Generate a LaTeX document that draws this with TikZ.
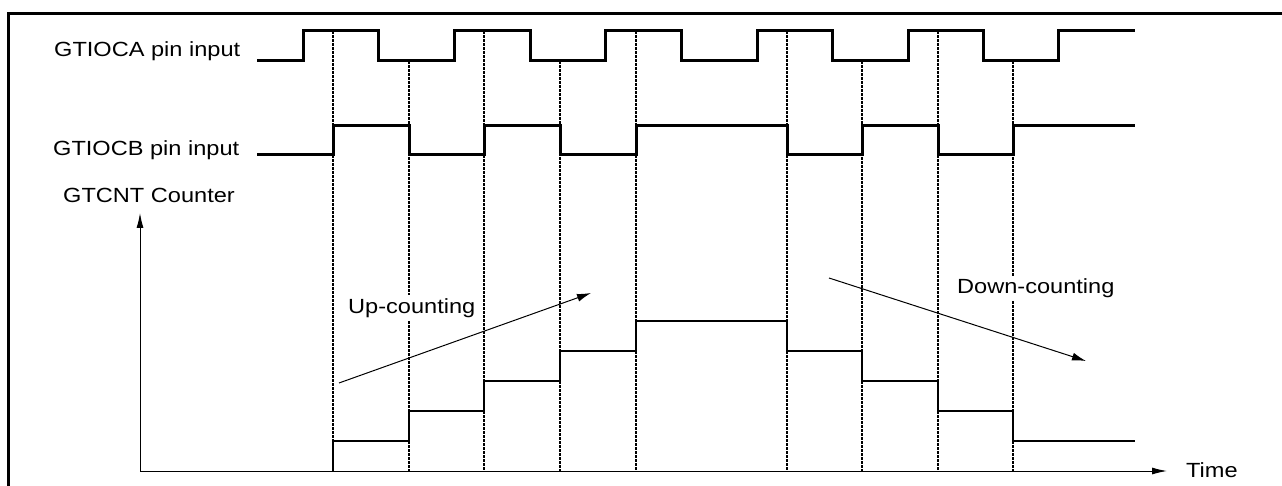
\documentclass[tikz,border=0pt]{standalone}
\usepackage{fontspec}
\setmainfont{Liberation Sans}[FakeStretch=1.15]
\usetikzlibrary{arrows.meta}

\tikzset{
  sig/.style={line width=3pt, line join=miter},
  cnt/.style={line width=2pt},
  guide/.style={line width=1.3pt, dash pattern=on 3pt off 1pt},
  axis/.style={line width=1pt, -{Latex[length=15pt,width=7pt]}},
  trend/.style={line width=1pt, -{Latex[length=14pt,width=8pt]}},
  lbl/.style={anchor=base west, inner sep=0pt, font=\fontsize{20.5}{24}\selectfont},
  tag/.style={lbl, fill=white, inner xsep=0pt, inner ysep=3pt},
}

\begin{document}
\begin{tikzpicture}[x=1pt,y=-1pt]
  \useasboundingbox (0,0) rectangle (1282,486);
  \clip (0,0) rectangle (1282,486);
  \draw[line width=3pt] (8.5,13.5) rectangle (1300,500);

  % edges of GTIOCB
  \foreach \x/\t in {333/31,409/61,484/31,560/61,636/31,787/31,862/61,938/31,1013/61}
    \draw[guide] (\x,\t) -- (\x,471);

  % labels
  \node[lbl] (sigA) at (54,57) {GTIOCA pin input};
  \node[lbl] (sigB) at (53,156) {GTIOCB pin input};
  \node[lbl] (count) at (63,203) {GTCNT Counter};
  \node[tag] (up) at (348,313) {Up-counting};
  \node[tag] (down) at (957,294) {Down-counting};
  \node[lbl] (time) at (1186,477) {Time};

  % input pins
  \draw[sig] (257,61) -| (303,31) -| (378,61) -| (454,31) -| (530,61) -| (605,31)
    -| (681,61) -| (757,31) -| (832,61) -| (908,31) -| (983,61) -| (1058,31) -- (1135,31);
  \draw[sig] (257,155) -| (333,126) -| (409,155) -| (484,126) -| (560,155) -| (636,126)
    -| (787,155) -| (862,126) -| (938,155) -| (1013,126) -- (1135,126);

  % counter value
  \draw[cnt] (333,471) |- (409,441) |- (484,411) |- (560,381) |- (636,351) |- (787,321)
    |- (862,351) |- (938,381) |- (1013,411) |- (1135,441);

  % axes
  \coordinate (O) at (140,471);
  \coordinate (ytop) at (140,213);
  \coordinate (xend) at (1167,471);
  \draw[axis] (O) -- (ytop);
  \draw[axis] (O) -- (xend);

  % count direction
  \coordinate (u1) at (339,383);
  \coordinate (u2) at (591,293);
  \coordinate (d1) at (829,278);
  \coordinate (d2) at (1086,361);
  \draw[trend] (u1) -- (u2);
  \draw[trend] (d1) -- (d2);
\end{tikzpicture}
\end{document}
